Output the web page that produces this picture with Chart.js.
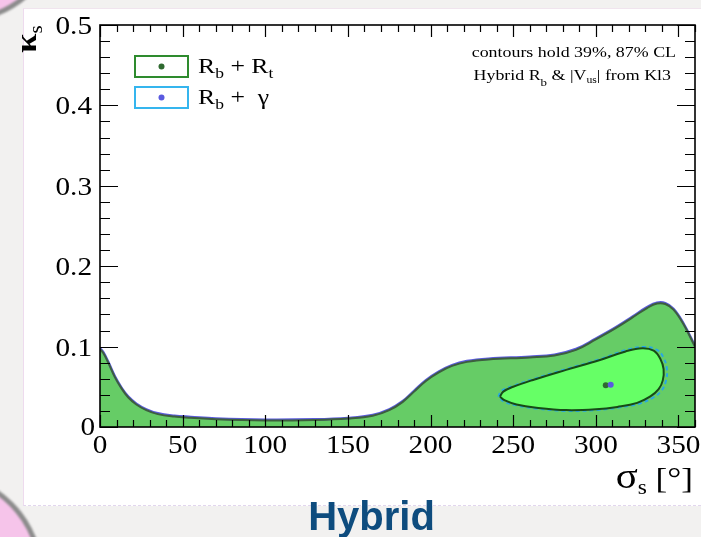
<!DOCTYPE html>
<html><head><meta charset="utf-8">
<script src="https://cdn.jsdelivr.net/npm/chart.js@4.4.1/dist/chart.umd.min.js"></script>
<style>
html,body{margin:0;padding:0;}
body{width:701px;height:537px;overflow:hidden;background:#f2f1f0;position:relative;}
.circ{position:absolute;border-radius:50%;background:#f6c4ea;border:5px solid #8c8c8c;filter:blur(1px);box-sizing:border-box;}
#card{position:absolute;left:23px;top:8px;width:678px;height:498px;background:#fff;border-left:1px solid #eedbee;border-top:1px solid #f0e4ee;border-bottom:1px dashed #e2d6ee;box-sizing:border-box;}
#wrap{position:absolute;left:0;top:0;width:701px;height:537px;}
</style></head>
<body>
<div class="circ" style="left:-143px;top:-183px;width:206px;height:206px;"></div>
<div class="circ" style="left:-163px;top:472px;width:206px;height:206px;"></div>
<div id="card"></div>
<div id="wrap"><canvas id="c" width="701" height="537"></canvas></div>
<script>
// ---- data ----
const sigmaOuter = [0, 2, 5, 9, 13, 17, 22, 28, 35, 45, 55, 70, 100, 130, 150, 165, 175, 183, 190, 197, 205, 213, 222, 235, 260, 275, 288, 300, 312, 322, 331, 337, 342, 347, 353, 360];
const kappaOuterRt = [0.097, 0.092, 0.080, 0.062, 0.048, 0.037, 0.028, 0.021, 0.016, 0.013, 0.0115, 0.0095, 0.008, 0.0087, 0.0105, 0.014, 0.021, 0.031, 0.044, 0.057, 0.068, 0.076, 0.081, 0.084, 0.0865, 0.089, 0.096, 0.109, 0.123, 0.136, 0.148, 0.1535, 0.153, 0.146, 0.128, 0.100];
const kappaOuterGamma = [0.098, 0.093, 0.081, 0.063, 0.049, 0.038, 0.029, 0.022, 0.017, 0.014, 0.0125, 0.0105, 0.009, 0.0095, 0.0113, 0.015, 0.022, 0.032, 0.045, 0.058, 0.069, 0.077, 0.082, 0.085, 0.0875, 0.090, 0.097, 0.110, 0.124, 0.137, 0.149, 0.1545, 0.154, 0.147, 0.129, 0.101];

const sigmaInnerRt = [242, 244, 250, 262, 282, 302, 318, 328, 335, 339, 341, 340.5, 338, 333, 325, 313, 300, 282, 264, 252, 245, 242];
const kappaInnerRt = [0.0377, 0.044, 0.050, 0.0585, 0.071, 0.083, 0.094, 0.098, 0.095, 0.085, 0.072, 0.058, 0.047, 0.038, 0.030, 0.025, 0.022, 0.021, 0.024, 0.028, 0.033, 0.0377];
const sigmaInnerGamma = [241, 243, 250, 262, 282, 302, 318, 329, 337, 341, 343, 342.5, 340, 335, 326, 313, 300, 282, 264, 252, 244, 241];
const kappaInnerGamma = [0.0377, 0.045, 0.051, 0.0595, 0.072, 0.084, 0.0955, 0.0995, 0.096, 0.086, 0.072, 0.058, 0.046, 0.037, 0.029, 0.024, 0.021, 0.020, 0.023, 0.027, 0.032, 0.0377];

const bestRt = [306, 0.052];
const bestGamma = [309, 0.0527];

const xTickValues = [0, 50, 100, 150, 200, 250, 300, 350];
const xTickLabels = ['0', '50', '100', '150', '200', '250', '300', '350'];
const yTickValues = [0, 0.1, 0.2, 0.3, 0.4, 0.5];
const yTickLabels = ['0', '0.1', '0.2', '0.3', '0.4', '0.5'];
const xMinorStep = 10, yMinorStep = 0.02;

const pts = (xs, ys) => xs.map((x, i) => ({x: x, y: ys[i]}));

const SERIF = '"Liberation Serif", "Times New Roman", serif';
const SX = 1.17; // horizontal stretch of the plot's text

function txt(ctx, s, size, x, y, align, extra) {
  ctx.font = (extra || '') + size + 'px ' + SERIF;
  const w = ctx.measureText(s).width * SX;
  let x0 = x;
  if (align === 'right') x0 = x - w; else if (align === 'center') x0 = x - w / 2;
  ctx.save(); ctx.translate(x0, y); ctx.scale(SX, 1); ctx.textAlign = 'left'; ctx.textBaseline = 'alphabetic';
  ctx.fillText(s, 0, 0); ctx.restore();
  return w;
}
function rich(ctx, parts, x, y, align) {
  let total = 0;
  parts.forEach(p => { ctx.font = (p[3] || '') + p[1] + 'px ' + SERIF; total += ctx.measureText(p[0]).width * SX; });
  let cx = align === 'right' ? x - total : align === 'center' ? x - total / 2 : x;
  parts.forEach(p => { cx += txt(ctx, p[0], p[1], cx, y + (p[2] || 0), 'left', p[3]); });
}

const decor = {
  id: 'decor',
  afterDraw(chart) {
    const ctx = chart.ctx, a = chart.chartArea, xs = chart.scales.x, ys = chart.scales.y;
    ctx.save();
    ctx.strokeStyle = '#000'; ctx.fillStyle = '#000';
    // ticks (inward, all four sides)
    ctx.lineWidth = 1.2;
    ctx.beginPath();
    for (let v = 0; v <= 360.001; v += xMinorStep) {
      const px = Math.round(xs.getPixelForValue(v)) + 0.5;
      const major = xTickValues.some(t => Math.abs(t - v) < 1e-6);
      const L = major ? 12 : 7;
      ctx.moveTo(px, a.bottom); ctx.lineTo(px, a.bottom - L);
      ctx.moveTo(px, a.top); ctx.lineTo(px, a.top + L);
    }
    for (let v = 0; v <= 0.5001; v += yMinorStep) {
      const py = Math.round(ys.getPixelForValue(v)) + 0.5;
      const major = yTickValues.some(t => Math.abs(t - v) < 1e-6);
      const L = major ? 18 : 10;
      ctx.moveTo(a.left, py); ctx.lineTo(a.left + L, py);
      ctx.moveTo(a.right, py); ctx.lineTo(a.right - L, py);
    }
    ctx.stroke();
    // frame
    ctx.lineWidth = 1.6;
    ctx.strokeRect(a.left, a.top, a.right - a.left, a.bottom - a.top);

    // tick labels
    xTickValues.forEach((v, i) => txt(ctx, xTickLabels[i], 25, xs.getPixelForValue(v), a.bottom + 26, 'center'));
    yTickValues.forEach((v, i) => {
      if (v === 0) txt(ctx, yTickLabels[i], 25, a.left - 5, ys.getPixelForValue(v) + 8, 'right');
      else txt(ctx, yTickLabels[i], 25, a.left - 8, ys.getPixelForValue(v) + 9, 'right');
    });

    // axis titles
    rich(ctx, [['σ', 35], ['s', 20, 6], [' [°]', 30]], 693, 488, 'right');
    ctx.save();
    ctx.translate(36, 53); ctx.rotate(-Math.PI / 2);
    rich(ctx, [['κ', 30, 0, 'bold '], ['s', 18, 6]], 0, 0, 'left');
    ctx.restore();

    // legend
    const leg = [
      {y: 56, border: '#2e8b2e', dot: '#2f6a30', parts: [['R', 22], ['b', 15, 5], [' + R', 22], ['t', 15, 5]]},
      {y: 87, border: '#35b5ee', dot: '#5a5ae0', parts: [['R', 22], ['b', 15, 5], [' +  γ', 22]]}
    ];
    leg.forEach(l => {
      ctx.fillStyle = '#fff'; ctx.fillRect(135, l.y, 53, 21);
      ctx.lineWidth = 2; ctx.strokeStyle = l.border; ctx.strokeRect(135, l.y, 53, 21);
      ctx.fillStyle = l.dot; ctx.beginPath(); ctx.arc(161.5, l.y + 10.5, 3, 0, Math.PI * 2); ctx.fill();
      ctx.fillStyle = '#000';
      rich(ctx, l.parts, 198, l.y + 17, 'left');
    });

    // info text
    ctx.fillStyle = '#000';
    rich(ctx, [['contours hold 39%, 87% CL', 15.3]], 676, 57, 'right');
    rich(ctx, [['Hybrid R', 15.3], ['b', 11, 6], [' & |V', 15.3], ['us', 10, 3], ['| from Kl3', 15.3]], 671, 80, 'right');

    // slide caption
    ctx.fillStyle = '#0e4c7e';
    ctx.font = 'bold 40px "Liberation Sans", Arial, sans-serif';
    ctx.textAlign = 'center'; ctx.textBaseline = 'alphabetic';
    ctx.fillText('Hybrid', 371.5, 530);
    ctx.restore();
  }
};

new Chart(document.getElementById('c'), {
  type: 'scatter',
  data: {
    datasets: [
      {label: 'Rb+Rt 87% fill', data: pts(sigmaOuter, kappaOuterRt), showLine: true, fill: 'origin',
       backgroundColor: '#66cc66', borderWidth: 0, tension: 0.4, pointRadius: 0, order: 10},
      {label: 'Rb+gamma outer', data: pts(sigmaOuter, kappaOuterGamma), showLine: true, fill: false,
       borderColor: '#5b5bdc', borderWidth: 2.5, tension: 0.4, pointRadius: 0, order: 9},
      {label: 'Rb+Rt outer', data: pts(sigmaOuter, kappaOuterRt), showLine: true, fill: false,
       borderColor: '#3d5f3d', borderWidth: 2, tension: 0.4, pointRadius: 0, order: 8},
      {label: 'Rb+Rt 39% fill', data: pts(sigmaInnerRt, kappaInnerRt), showLine: true, fill: 'shape',
       backgroundColor: '#66ff66', borderWidth: 0, tension: 0.4, pointRadius: 0, order: 7},
      {label: 'Rb+gamma inner', data: pts(sigmaInnerGamma, kappaInnerGamma), showLine: true, fill: false,
       borderColor: '#2aa8e2', borderWidth: 2, borderDash: [4, 3], tension: 0.4, pointRadius: 0, order: 6},
      {label: 'Rb+Rt inner', data: pts(sigmaInnerRt, kappaInnerRt), showLine: true, fill: false,
       borderColor: '#174a17', borderWidth: 2, tension: 0.4, pointRadius: 0, order: 5},
      {label: 'best Rt', data: [{x: bestRt[0], y: bestRt[1]}], pointRadius: 3, pointBackgroundColor: '#2f6a30', pointBorderWidth: 0, order: 2},
      {label: 'best gamma', data: [{x: bestGamma[0], y: bestGamma[1]}], pointRadius: 3, pointBackgroundColor: '#5a5ae0', pointBorderWidth: 0, order: 1}
    ]
  },
  options: {
    responsive: false, animation: false,
    layout: {padding: {left: 100, top: 25, right: 6, bottom: 110}},
    plugins: {legend: {display: false}, tooltip: {enabled: false}},
    scales: {
      x: {type: 'linear', min: 0, max: 360, display: false},
      y: {type: 'linear', min: 0, max: 0.5, display: false}
    }
  },
  plugins: [decor]
});
</script>
</body></html>
